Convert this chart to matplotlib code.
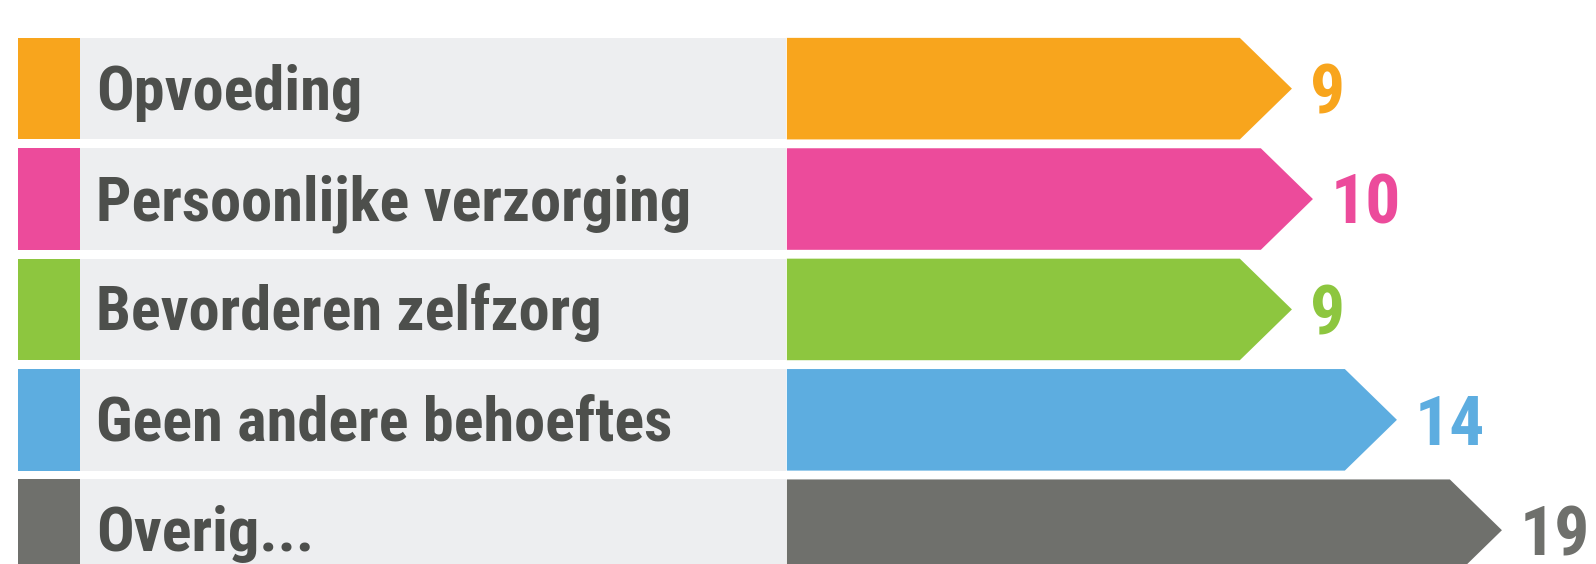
import matplotlib.pyplot as plt
from matplotlib.patches import Polygon, Rectangle
from matplotlib import font_manager
import matplotlib.transforms as mtransforms

# DATA

categories = ['Opvoeding', 'Persoonlijke verzorging', 'Bevorderen zelfzorg',
              'Geen andere behoeftes', 'Overig...']
values = [9, 10, 9, 14, 19]
colors = ['#F8A51D', '#EC4B9B', '#8DC63F', '#5DADE0', '#6F706C']

PANEL = '#EDEEF0'
TEXT = '#4D4F4C'

# LAYOUT (value units on x, row index on y)
bar_start = -15.05
head_len = 2.48
bar_h = 0.92
label_size = 49
value_size = 50
label_width_px = 595   # width of the longest label in the reference


def find_font(keys):
    # first installed file whose name contains all the keywords
    files = [f.fname for f in font_manager.fontManager.ttflist]
    for need, avoid in keys:
        for fn in files:
            low = fn.lower().replace('-', '').replace('_', '')
            base = low.rsplit('/', 1)[-1]
            if all(k in base for k in need) and not any(a in base for a in avoid):
                return font_manager.FontProperties(fname=fn)
    return font_manager.FontProperties(family='DejaVu Sans', weight='bold',
                                       stretch='condensed')


label_fp = find_font([(['liberationsansnarrow', 'bold'], ['italic']),
                      (['robotocondensed', 'bold'], ['italic', 'semi', 'extra']),
                      (['notosans', 'condensedbold'], ['italic', 'semi', 'extra', 'mono', 'display']),
                      (['notosans', 'extracondensedbold'], ['italic', 'mono', 'display']),
                      (['dejavusanscondensed', 'bold'], ['oblique'])])


def arrow_bar(ax, y, value, color):
    top, bot = y - bar_h / 2, y + bar_h / 2
    pts = [(bar_start, top), (value - head_len, top), (value, y),
           (value - head_len, bot), (bar_start, bot)]
    ax.add_patch(Polygon(pts, closed=True, facecolor=color, edgecolor='none'))


fig = plt.figure(figsize=(15.96, 5.64), dpi=100)
ax = fig.add_axes([0, 0, 1, 1])
ax.set_xlim(-52.52, 23.48)
ax.set_ylim(4.306, -0.803)
ax.axis('off')

blend = mtransforms.blended_transform_factory(ax.transAxes, ax.transData)

# shrink the label size if the available face is wider than the original
renderer = fig.canvas.get_renderer()
probe = fig.text(0, 0, max(categories, key=len), fontproperties=label_fp,
                 fontsize=label_size)
w = probe.get_window_extent(renderer).width
probe.remove()
label_size = min(label_size, label_size * label_width_px / w)

for i, (cat, val, col) in enumerate(zip(categories, values, colors)):
    top = i - bar_h / 2
    # colour square and grey label panel
    ax.add_patch(Rectangle((0.0111, top), 0.0393, bar_h, transform=blend,
                           facecolor=col, edgecolor='none'))
    ax.add_patch(Rectangle((0.0504, top), 0.4420, bar_h, transform=blend,
                           facecolor=PANEL, edgecolor='none'))
    ax.text(0.0600, i + 0.19, cat, transform=blend, ha='left', va='baseline',
            fontproperties=label_fp, fontsize=label_size, color=TEXT)

    arrow_bar(ax, i, val, col)
    ax.text(val + 0.85, i + 0.225, str(val), ha='left', va='baseline',
            fontproperties=label_fp, fontsize=value_size, color=col)

plt.savefig('out.png', dpi=100)
